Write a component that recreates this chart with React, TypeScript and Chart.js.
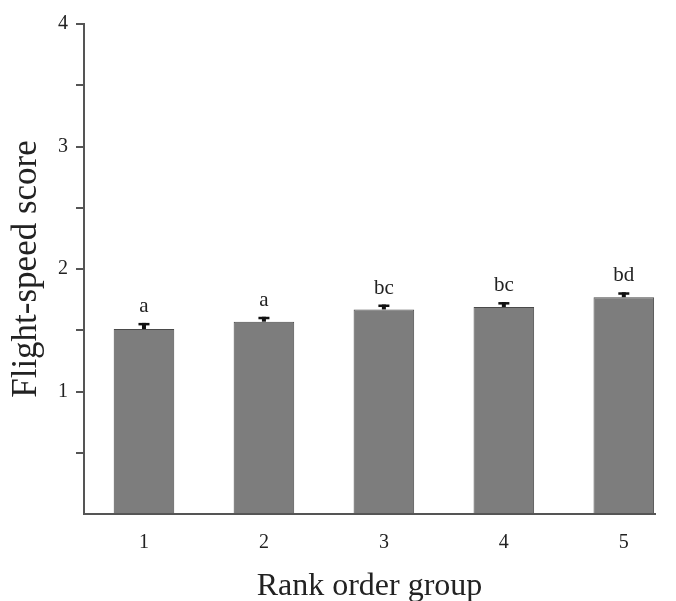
import React, { useEffect, useRef } from 'react';
import { Chart, registerables } from 'chart.js';

Chart.register(...registerables);

// Rank order groups on the x axis
const groups = ['1', '2', '3', '4', '5'];
// Mean flight-speed score per group
const meanScores = [1.51, 1.57, 1.67, 1.69, 1.77];
// Standard error of each mean (drawn upward only)
const stdErrors = [0.05, 0.04, 0.04, 0.04, 0.04];
// Significance letters above each bar
const sigLetters = ['a', 'a', 'bc', 'bc', 'bd'];

const SERIF = '"Liberation Serif", "Times New Roman", serif';
const AXIS_COLOR = '#555555';
const TEXT_COLOR = '#222222';

// Draws the one-sided error bars and the significance letters
const errorBarPlugin = {
  id: 'errorBars',
  afterDatasetsDraw(chart: any) {
    const meta = chart.getDatasetMeta(0);
    const yScale = chart.scales.y;
    const ctx = chart.ctx as CanvasRenderingContext2D;
    ctx.save();
    meta.data.forEach((bar: any, i: number) => {
      const top = yScale.getPixelForValue(meanScores[i] + stdErrors[i]);
      const base = yScale.getPixelForValue(meanScores[i]);
      ctx.fillStyle = '#111111';
      ctx.fillRect(bar.x - 2, top, 4, base - top);
      ctx.fillRect(bar.x - 5.5, top, 11, 2.5);
      ctx.font = `21px ${SERIF}`;
      ctx.fillStyle = TEXT_COLOR;
      ctx.textAlign = 'center';
      ctx.textBaseline = 'alphabetic';
      ctx.fillText(sigLetters[i], bar.x, top - 11);
    });
    ctx.restore();
  },
};

export default function App() {
  const canvasRef = useRef<HTMLCanvasElement | null>(null);

  useEffect(() => {
    const canvas = canvasRef.current;
    if (!canvas) return;

    const points = groups.map((g, i) => ({ x: i + 1, y: meanScores[i] }));

    const chart = new Chart(canvas, {
      type: 'bar',
      data: {
        datasets: [
          {
            data: points as any,
            backgroundColor: '#7d7d7d',
            borderColor: '#4a4a4a',
            borderWidth: 1,
            categoryPercentage: 1,
            barPercentage: 0.505,
          },
        ],
      },
      options: {
        animation: false,
        responsive: false,
        devicePixelRatio: 1,
        layout: { padding: { top: 24, right: 21, bottom: 0, left: 0 } },
        plugins: {
          legend: { display: false },
          tooltip: { enabled: false },
        },
        scales: {
          x: {
            type: 'linear',
            offset: false,
            min: 0.5,
            max: 5.26,
            grid: { display: false, offset: false },
            border: { display: true, color: AXIS_COLOR, width: 2 },
            afterBuildTicks: (scale: any) => {
              scale.ticks = groups.map((_, i) => ({ value: i + 1 }));
            },
            afterFit: (scale: any) => {
              scale.height = 87;
            },
            ticks: {
              autoSkip: false,
              maxRotation: 0,
              padding: 9,
              color: TEXT_COLOR,
              font: { family: SERIF, size: 20 },
              callback: (v: any) => groups[Number(v) - 1] ?? '',
            },
            title: {
              display: true,
              text: 'Rank order group',
              color: TEXT_COLOR,
              font: { family: SERIF, size: 32, lineHeight: 0.9 },
              padding: { top: 0, bottom: 0 },
            },
          },
          y: {
            type: 'linear',
            min: 0,
            max: 4,
            grid: {
              drawOnChartArea: false,
              drawTicks: true,
              tickLength: 8,
              lineWidth: 2,
              color: AXIS_COLOR,
              tickColor: (c: any) => (c.tick && c.tick.value === 0 ? 'rgba(0,0,0,0)' : AXIS_COLOR),
            },
            border: { display: true, color: AXIS_COLOR, width: 2 },
            afterFit: (scale: any) => {
              scale.width = 84;
            },
            ticks: {
              stepSize: 0.5,
              padding: 8,
              color: TEXT_COLOR,
              font: { family: SERIF, size: 20 },
              callback: (v: any) => (Number.isInteger(Number(v)) && Number(v) > 0 ? String(v) : ''),
            },
            title: {
              display: true,
              text: 'Flight-speed score',
              color: TEXT_COLOR,
              font: { family: SERIF, size: 35 },
              padding: { top: 6, bottom: 0 },
            },
          },
        },
      },
      plugins: [errorBarPlugin],
    });

    return () => chart.destroy();
  }, []);

  return (
    <div style={{ position: 'fixed', left: 0, top: 0, width: 676, height: 601, background: '#ffffff' }}>
      <canvas ref={canvasRef} width={676} height={601} />
    </div>
  );
}
